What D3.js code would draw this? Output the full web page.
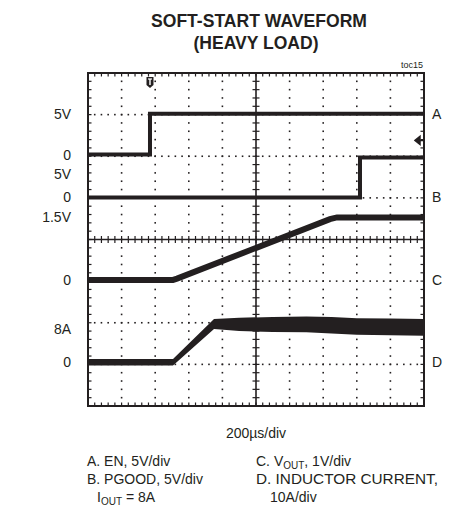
<!DOCTYPE html>
<html>
<head>
<meta charset="utf-8">
<script src="https://cdn.jsdelivr.net/npm/d3@7"></script>
<style>
  html, body { margin: 0; padding: 0; background: #fff; }
  svg { display: block; font-family: "Liberation Sans", Arial, sans-serif; }
</style>
</head>
<body>
<svg id="chart" width="458" height="512"></svg>
<script>
// time base: 10 div x 200us
const timeDomain = [0, 2000]
const divDomain = [-4, 4]

// trace A: EN (V), 5V/div, zero at +2.04 div
const aTime = [0, 369, 369, 2000]
const aValue = [0, 0, 4.9, 4.9]

// trace B: PGOOD (V), 5V/div
const bTime = [0, 1619, 1619, 2000]
const bValue = [0, 0, 4.8, 4.8]

// trace C: VOUT (V), 1V/div
const cTime = [0, 506, 530, 1440, 1482, 2000]
const cValue = [0, 0, 0.03, 1.46, 1.5, 1.5]

// trace D: inductor current (A), 10A/div, noisy band low/high
const dTime = [0, 506, 750, 900, 1100, 1300, 1450, 1600, 1800, 2000]
const dLow = [-0.8, -0.8, 8.0, 7.5, 7.3, 7.2, 6.9, 6.6, 6.5, 6.4]
const dHigh = [0.8, 0.8, 10.4, 10.7, 10.9, 11.0, 10.9, 10.6, 10.5, 10.4]

const traces = [
    {name: 'A', perDiv: 5, zero: 2.04, time: aTime, value: aValue},
    {name: 'B', perDiv: 5, zero: 1.01, time: bTime, value: bValue},
    {name: 'C', perDiv: 1, zero: -0.97, time: cTime, value: cValue},
    {name: 'D', perDiv: 10, zero: -2.95, time: dTime, low: dLow, high: dHigh}
]

// left scale labels: trace, value, text
const levelLabels = [
    ['A', 4.9, '5V'], ['A', 0, '0'],
    ['B', 2.8, '5V'], ['B', 0, '0'],
    ['C', 1.5, '1.5V'], ['C', 0, '0'],
    ['D', 8, '8A'], ['D', 0, '0']
]

const triggerTime = 369
const triggerLevel = 1.7

const svg = d3.select('#chart')
const x = d3.scaleLinear(timeDomain, [88, 424])
const y = d3.scaleLinear(divDomain, [406, 73])
const traceY = tr => v => y(tr.zero + v / tr.perDiv)
const byName = Object.fromEntries(traces.map(t => [t.name, t]))
const ink = '#231f20'

// title
svg.append('text').attr('x', 259).attr('y', 27).attr('text-anchor', 'middle')
    .attr('font-weight', 'bold').attr('font-size', 18)
    .attr('textLength', 216).attr('lengthAdjust', 'spacingAndGlyphs')
    .attr('fill', ink).text('SOFT-START WAVEFORM')
svg.append('text').attr('x', 256).attr('y', 49).attr('text-anchor', 'middle')
    .attr('font-weight', 'bold').attr('font-size', 18)
    .attr('textLength', 125).attr('lengthAdjust', 'spacingAndGlyphs')
    .attr('fill', ink).text('(HEAVY LOAD)')
svg.append('text').attr('x', 423).attr('y', 68).attr('text-anchor', 'end')
    .attr('font-size', 9).attr('fill', ink).text('toc15')

// grid
const g = svg.append('g')
const majorT = d3.range(200, 2000, 200).filter(t => t !== 1000)
const majorD = d3.range(-3, 4, 1).filter(d => d !== 0)
const minorT = d3.range(0, 2001, 40)
const minorD = d3.range(-4, 4.001, 0.2)

majorT.forEach(t => {
    g.selectAll(null).data(minorD).enter().append('rect')
        .attr('x', x(t) - 0.8).attr('y', d => y(d) - 0.8)
        .attr('width', 1.6).attr('height', 1.6).attr('fill', ink)
})
majorD.forEach(d => {
    g.selectAll(null).data(minorT).enter().append('rect')
        .attr('x', t => x(t) - 0.8).attr('y', y(d) - 0.8)
        .attr('width', 1.6).attr('height', 1.6).attr('fill', ink)
})

// center cross with ticks
g.append('line').attr('x1', x(0)).attr('x2', x(2000)).attr('y1', y(0)).attr('y2', y(0))
    .attr('stroke', ink).attr('stroke-width', 1.6)
g.append('line').attr('x1', x(1000)).attr('x2', x(1000)).attr('y1', y(-4)).attr('y2', y(4))
    .attr('stroke', ink).attr('stroke-width', 1.6)
g.selectAll('.tx').data(minorT).enter().append('line')
    .attr('x1', t => x(t)).attr('x2', t => x(t))
    .attr('y1', y(0) - 3.5).attr('y2', y(0) + 3.5)
    .attr('stroke', ink).attr('stroke-width', 1.2)
g.selectAll('.ty').data(minorD).enter().append('line')
    .attr('x1', x(1000) - 3.5).attr('x2', x(1000) + 3.5)
    .attr('y1', d => y(d)).attr('y2', d => y(d))
    .attr('stroke', ink).attr('stroke-width', 1.2)

// border ticks
const bt = [[minorT, 'top'], [minorT, 'bottom'], [minorD, 'left'], [minorD, 'right']]
bt.forEach(([vals, side]) => {
    g.selectAll(null).data(vals).enter().append('line')
        .attr('x1', v => side === 'left' ? x(0) : side === 'right' ? x(2000) : x(v))
        .attr('x2', v => side === 'left' ? x(0) + 3.5 : side === 'right' ? x(2000) - 3.5 : x(v))
        .attr('y1', v => side === 'top' ? y(4) : side === 'bottom' ? y(-4) : y(v))
        .attr('y2', v => side === 'top' ? y(4) + 3.5 : side === 'bottom' ? y(-4) - 3.5 : y(v))
        .attr('stroke', ink).attr('stroke-width', 1.2)
})
g.append('rect').attr('x', x(0)).attr('y', y(4))
    .attr('width', x(2000) - x(0)).attr('height', y(-4) - y(4))
    .attr('fill', 'none').attr('stroke', ink).attr('stroke-width', 2)

// traces
traces.forEach(tr => {
    const ty = traceY(tr)
    const idx = d3.range(tr.time.length)
    if (tr.low) {
        const area = d3.area().x(i => x(tr.time[i])).y0(i => ty(tr.low[i])).y1(i => ty(tr.high[i]))
        svg.append('path').attr('d', area(idx)).attr('fill', ink)
    } else {
        const line = d3.line().x(i => x(tr.time[i])).y(i => ty(tr.value[i]))
        svg.append('path').attr('d', line(idx)).attr('fill', 'none')
            .attr('stroke', ink)
            .attr('stroke-width', tr.name === 'C' ? 6 : 4)
    }
})

// trigger markers
const tx = x(triggerTime)
svg.append('path')
    .attr('d', `M${tx - 3.5},${y(4) + 4}h7v8l-3.5,3l-3.5,-3z`)
    .attr('fill', ink)
svg.append('line').attr('x1', tx).attr('x2', tx).attr('y1', y(4) + 6).attr('y2', y(4) + 12)
    .attr('stroke', '#fff').attr('stroke-width', 1.4)
svg.append('line').attr('x1', tx - 2).attr('x2', tx + 2).attr('y1', y(4) + 6).attr('y2', y(4) + 6)
    .attr('stroke', '#fff').attr('stroke-width', 1.2)
const ly = traceY(byName.A)(triggerLevel)
svg.append('path')
    .attr('d', `M${x(2000) - 9},${ly}l5,-4v8z M${x(2000) - 5},${ly}h5`)
    .attr('fill', ink).attr('stroke', ink).attr('stroke-width', 1.5)

// level labels
svg.selectAll('.lvl').data(levelLabels).enter().append('text')
    .attr('x', 71).attr('y', d => traceY(byName[d[0]])(d[1]) + 5)
    .attr('text-anchor', 'end').attr('font-size', 14).attr('fill', ink)
    .text(d => d[2])
svg.selectAll('.nm').data(traces).enter().append('text')
    .attr('x', 432).attr('y', d => traceY(d)(d.name === 'A' ? 4.9 : 0) + 5)
    .attr('font-size', 14).attr('fill', ink)
    .text(d => d.name)

// footer
svg.append('text').attr('x', 256).attr('y', 438).attr('text-anchor', 'middle')
    .attr('font-size', 14).attr('fill', ink).text('200µs/div')

const legend = svg.append('g').attr('font-size', 14).attr('fill', ink)
legend.append('text').attr('x', 87).attr('y', 466).text('A. EN, 5V/div')
legend.append('text').attr('x', 87).attr('y', 484).text('B. PGOOD, 5V/div')
const iout = legend.append('text').attr('x', 97).attr('y', 502)
iout.append('tspan').text('I')
iout.append('tspan').attr('font-size', 10).attr('dy', 3).text('OUT')
iout.append('tspan').attr('dy', -3).text(' = 8A')
const vout = legend.append('text').attr('x', 256).attr('y', 466)
vout.append('tspan').text('C. V')
vout.append('tspan').attr('font-size', 10).attr('dy', 3).text('OUT')
vout.append('tspan').attr('dy', -3).text(', 1V/div')
legend.append('text').attr('x', 256).attr('y', 484)
    .attr('textLength', 182).attr('lengthAdjust', 'spacingAndGlyphs')
    .text('D. INDUCTOR CURRENT,')
legend.append('text').attr('x', 270).attr('y', 502).text('10A/div')
</script>
</body>
</html>
